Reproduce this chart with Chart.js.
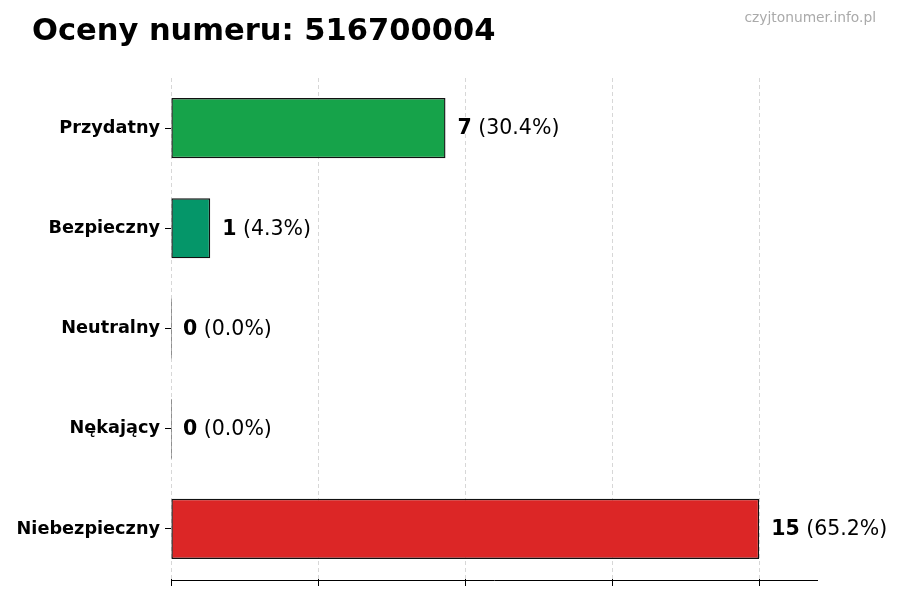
<!DOCTYPE html>
<html>
<head>
<meta charset="utf-8">
<script src="https://cdn.jsdelivr.net/npm/chart.js@4"></script>
<style>
  html, body { margin: 0; padding: 0; background: #fff; }
  #wrap { width: 900px; height: 600px; position: relative; }
</style>
</head>
<body>
<div id="wrap"><canvas id="myChart"></canvas></div>
<script>
    const titleText = 'Oceny numeru: 516700004';
    const siteText = 'czyjtonumer.info.pl';

    const categories = ['Przydatny', 'Bezpieczny', 'Neutralny', 'Nękający', 'Niebezpieczny'];
    const counts = [7, 1, 0, 0, 15];
    const barColors = ['#16a34a', '#059669', '#6b7280', '#f97316', '#dc2626'];

    const total = counts.reduce((a, b) => a + b, 0);
    const FONT = '"DejaVu Sans", sans-serif';

    // title, watermark, bottom spine and the value labels next to bars
    const textPlugin = {
        id: 'textPlugin',
        afterDraw(chart) {
            const ctx = chart.ctx;
            const area = chart.chartArea;
            ctx.save();
            ctx.strokeStyle = '#000';
            ctx.lineWidth = 1;
            ctx.beginPath();
            ctx.moveTo(area.left, Math.round(area.bottom) + 1.5);
            ctx.lineTo(area.right, Math.round(area.bottom) + 1.5);
            ctx.stroke();

            ctx.fillStyle = '#000';
            ctx.textBaseline = 'alphabetic';
            ctx.textAlign = 'left';
            ctx.font = 'bold 30.5px ' + FONT;
            ctx.fillText(titleText, 32, 40);

            ctx.fillStyle = '#aaaaaa';
            ctx.textAlign = 'right';
            ctx.font = '13.8px ' + FONT;
            ctx.fillText(siteText, 876, 22);

            ctx.textAlign = 'left';
            ctx.textBaseline = 'middle';
            const meta = chart.getDatasetMeta(0);
            meta.data.forEach((bar, i) => {
                const x = chart.scales.x.getPixelForValue(counts[i]) + 12;
                const y = bar.y + 1;
                ctx.fillStyle = '#000';
                ctx.font = 'bold 20.5px ' + FONT;
                const num = String(counts[i]);
                ctx.fillText(num, x, y);
                const w = ctx.measureText(num).width;
                ctx.font = '20.5px ' + FONT;
                const pct = total ? (counts[i] / total * 100).toFixed(1) : '0.0';
                ctx.fillText(' (' + pct + '%)', x + w, y);
            });
            ctx.restore();
        }
    };

    const data = {
        labels: categories,
        datasets: [{
            data: counts,
            backgroundColor: barColors,
            borderColor: '#111',
            borderWidth: 1.4,
            borderSkipped: false,
            minBarLength: 1,
            barPercentage: 0.6,
            categoryPercentage: 1.0
        }]
    };

    const config = {
        type: 'bar',
        data: data,
        options: {
            indexAxis: 'y',
            responsive: false,
            animation: false,
            layout: { padding: { top: 78, right: 82, bottom: 0, left: 0 } },
            plugins: {
                legend: { display: false },
                tooltip: { enabled: false }
            },
            scales: {
                x: {
                    min: 0,
                    max: 16.5,
                    z: 1,
                    afterFit(scale) { scale.height = 21; },
                    afterBuildTicks(scale) {
                        scale.ticks = [0, 3.75, 7.5, 11.25, 15].map(v => ({ value: v }));
                    },
                    ticks: { callback: () => '', padding: 0 },
                    border: { display: false, dash: [4, 3] },
                    grid: {
                        color: 'rgba(170,170,170,0.6)',
                        tickColor: '#000',
                        tickBorderDash: [1, 0],
                        tickLength: 7,
                        lineWidth: 0.8,
                        tickWidth: 1
                    }
                },
                y: {
                    afterFit(scale) { scale.width = 171; },
                    ticks: {
                        color: '#000',
                        padding: 5,
                        font: { family: FONT, size: 17.7, weight: 'bold' }
                    },
                    border: { display: false },
                    grid: {
                        offset: false,
                        drawOnChartArea: false,
                        drawTicks: true,
                        tickLength: 6,
                        tickColor: '#000',
                        tickWidth: 1
                    }
                }
            }
        },
        plugins: [textPlugin]
    };

    const canvas = document.getElementById('myChart');
    canvas.width = 900;
    canvas.height = 600;
    const myChart = new Chart(canvas, config);
</script>
</body>
</html>
